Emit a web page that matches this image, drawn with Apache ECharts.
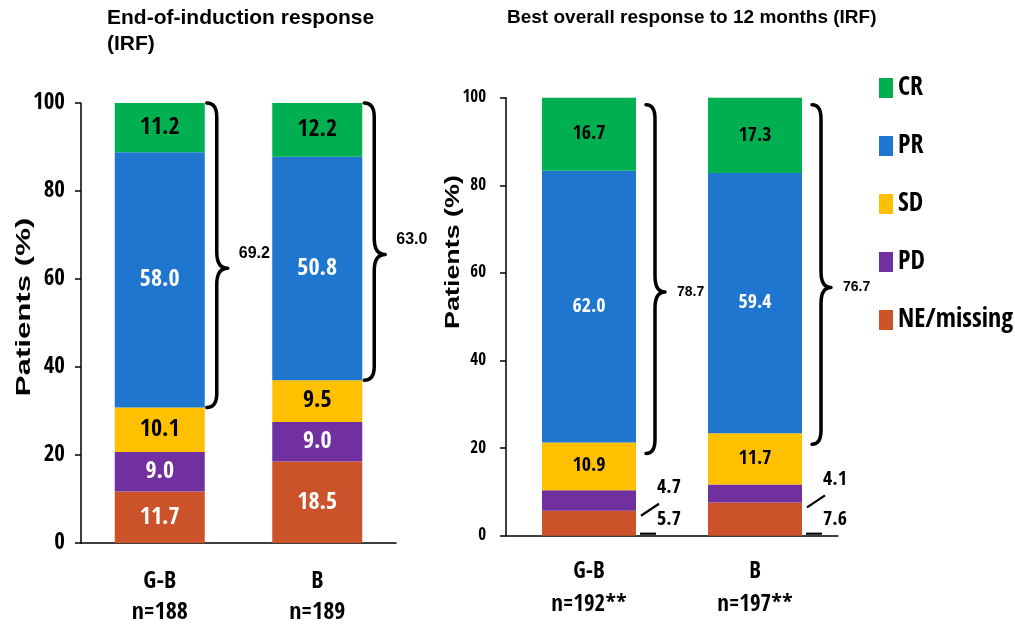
<!DOCTYPE html>
<html>
<head>
<meta charset="utf-8">
<script src="https://cdn.jsdelivr.net/npm/echarts@6/dist/echarts.min.js"></script>
<style>
  html, body { margin: 0; padding: 0; background: #fff; }
  #chart { width: 1015px; height: 628px; }
</style>
</head>
<body>
<div id="chart"></div>
<script>
// Treatment arms and patient counts
const categories = ['G-B', 'B'];
const eoiCounts = ['n=188', 'n=189'];
const borCounts = ['n=192**', 'n=197**'];

// Response categories (legend order, top of stack first)
const responseNames = ['CR', 'PR', 'SD', 'PD', 'NE/missing'];

// End-of-induction response (IRF), % of patients
const eoiCR = [11.2, 12.2];
const eoiPR = [58.0, 50.8];
const eoiSD = [10.1, 9.5];
const eoiPD = [9.0, 9.0];
const eoiNE = [11.7, 18.5];

// Best overall response to 12 months (IRF), % of patients
const borCR = [16.7, 17.3];
const borPR = [62.0, 59.4];
const borSD = [10.9, 11.7];
const borPD = [4.7, 4.1];
const borNE = [5.7, 7.6];

// Y axis scale
const yMin = 0, yMax = 100, yStep = 20;

const COLORS = {
  'CR': '#00B050',
  'PR': '#1F76CE',
  'SD': '#FFC000',
  'PD': '#7030A0',
  'NE/missing': '#CB5229'
};
const NARROW = '"Open Sans Condensed", "Open Sans", sans-serif';
const SANS = '"Liberation Sans", Arial, sans-serif';

const panels = [
  { CR: eoiCR, PR: eoiPR, SD: eoiSD, PD: eoiPD, NE: eoiNE, counts: eoiCounts },
  { CR: borCR, PR: borPR, SD: borSD, PD: borPD, NE: borNE, counts: borCounts }
];

// Per-panel drawing settings
const barWidths = [90, 94];
const labelSizes = [24, 20];
const braceCfg = [
  { gap: 2, arm: 10, tip: 21, topPad: 0, botPad: 0, labelDx: 11, labelDy: -15, font: 'bold 16px ' + SANS },
  { gap: 10, arm: 9, tip: 19, topPad: 7, botPad: 11, labelDx: 12, labelDy: 0, font: 'bold 14px ' + SANS }
];

function barSeries(gi, name, values, labelColor, showLabel) {
  return {
    type: 'bar',
    name: name,
    stack: 'panel' + gi,
    xAxisIndex: gi,
    yAxisIndex: gi,
    barWidth: barWidths[gi],
    data: values,
    itemStyle: { color: COLORS[name] },
    label: {
      show: showLabel,
      position: 'inside',
      color: labelColor,
      fontFamily: NARROW,
      fontWeight: 'bold',
      fontSize: labelSizes[gi],
      formatter: p => p.value.toFixed(1)
    }
  };
}

// Curly brace spanning CR + PR, with the combined percentage beside it
function braceSeries(gi) {
  const p = panels[gi];
  const cfg = braceCfg[gi];
  const data = categories.map((c, i) => {
    const low = p.NE[i] + p.PD[i] + p.SD[i];
    return [i, low, Math.min(yMax, low + p.PR[i] + p.CR[i])];
  });
  const texts = categories.map((c, i) => (p.CR[i] + p.PR[i]).toFixed(1));
  return {
    type: 'custom',
    xAxisIndex: gi,
    yAxisIndex: gi,
    silent: true,
    z: 5,
    encode: { x: 0, y: [1, 2] },
    data: data,
    renderItem: (params, api) => {
      const cat = api.value(0);
      const pLow = api.coord([cat, api.value(1)]);
      const pTop = api.coord([cat, api.value(2)]);
      const x0 = pLow[0] + barWidths[gi] / 2 + cfg.gap;
      const xa = x0 + cfg.arm;
      const xt = x0 + cfg.tip;
      const yT = pTop[1] + cfg.topPad;
      const yB = pLow[1] + cfg.botPad;
      const yM = (yT + yB) / 2 + 13;
      const r = 14, rt = 16;
      const d = `M${x0},${yT} Q${xa},${yT} ${xa},${yT + r} L${xa},${yM - rt} Q${xa},${yM} ${xt},${yM} ` +
                `Q${xa},${yM} ${xa},${yM + rt} L${xa},${yB - r} Q${xa},${yB} ${x0},${yB}`;
      return {
        type: 'group',
        children: [
          {
            type: 'path',
            shape: { pathData: d },
            style: { fill: 'none', stroke: '#000', lineWidth: 3.5, lineCap: 'round', lineJoin: 'round' }
          },
          {
            type: 'text',
            style: {
              text: texts[params.dataIndex],
              x: xt + cfg.labelDx,
              y: yM + cfg.labelDy,
              font: cfg.font,
              fill: '#000',
              textAlign: 'left',
              textVerticalAlign: 'middle'
            }
          }
        ]
      };
    }
  };
}

// Leader-line labels for the thin PD and NE/missing segments
function leaderSeries(gi) {
  const p = panels[gi];
  const data = categories.map((c, i) => [i, p.NE[i], p.PD[i]]);
  const font = 'bold 20px ' + NARROW;
  return {
    type: 'custom',
    xAxisIndex: gi,
    yAxisIndex: gi,
    silent: true,
    z: 5,
    encode: { x: 0, y: 1 },
    data: data,
    renderItem: (params, api) => {
      const cat = api.value(0);
      const ne = api.value(1);
      const pd = api.value(2);
      const base = api.coord([cat, 0]);
      const neTop = api.coord([cat, ne]);
      const xr = base[0] + barWidths[gi] / 2;
      const lineStyle = { stroke: '#000', lineWidth: 2.2 };
      return {
        type: 'group',
        children: [
          { type: 'line', shape: { x1: xr + 4, y1: base[1] - 2, x2: xr + 20, y2: base[1] - 2 }, style: lineStyle },
          { type: 'line', shape: { x1: xr + 5, y1: neTop[1] + 5, x2: xr + 23, y2: neTop[1] - 7 }, style: lineStyle },
          { type: 'text', style: { text: ne.toFixed(1), x: xr + 21, y: base[1] - 16, font: font, fill: '#000', textAlign: 'left', textVerticalAlign: 'middle' } },
          { type: 'text', style: { text: pd.toFixed(1), x: xr + 21, y: neTop[1] - 23, font: font, fill: '#000', textAlign: 'left', textVerticalAlign: 'middle' } }
        ]
      };
    }
  };
}

const series = [];
[0, 1].forEach(gi => {
  const p = panels[gi];
  const inBarLower = gi === 0;
  series.push(barSeries(gi, 'NE/missing', p.NE, '#fff', inBarLower));
  series.push(barSeries(gi, 'PD', p.PD, '#fff', inBarLower));
  series.push(barSeries(gi, 'SD', p.SD, '#000', true));
  series.push(barSeries(gi, 'PR', p.PR, '#fff', true));
  series.push(barSeries(gi, 'CR', p.CR, '#000', true));
  series.push(braceSeries(gi));
});
series.push(leaderSeries(1));

function xAxisFor(gi, fontSize, margin, lineHeight) {
  return {
    type: 'category',
    gridIndex: gi,
    data: categories,
    axisLine: { show: true, lineStyle: { color: '#000', width: 1.5 } },
    axisTick: { show: false },
    axisLabel: {
      margin: margin,
      color: '#000',
      fontFamily: NARROW,
      fontWeight: 'bold',
      fontSize: fontSize,
      lineHeight: lineHeight,
      formatter: (v, i) => v + '\n' + panels[gi].counts[i]
    }
  };
}

function yAxisFor(gi, fontSize, margin) {
  return {
    type: 'value',
    gridIndex: gi,
    min: yMin,
    max: yMax,
    interval: yStep,
    splitLine: { show: false },
    axisLine: { show: true, lineStyle: { color: '#000', width: 1.5 } },
    axisTick: { show: true, inside: false, length: 6, lineStyle: { color: '#000', width: 1.5 } },
    axisLabel: {
      margin: margin,
      color: '#000',
      fontFamily: NARROW,
      fontWeight: 'bold',
      fontSize: fontSize
    }
  };
}

const chart = echarts.init(document.getElementById('chart'), null, { renderer: 'canvas' });
chart.setOption({
  animation: false,
  backgroundColor: '#fff',
  title: [
    {
      left: 102, top: 0,
      text: 'End-of-induction response\n(IRF)',
      textStyle: { fontFamily: SANS, fontWeight: 'bold', fontSize: 21, lineHeight: 26, color: '#000' }
    },
    {
      left: 502, top: 0,
      text: 'Best overall response to 12 months (IRF)',
      textStyle: { fontFamily: SANS, fontWeight: 'bold', fontSize: 19, lineHeight: 26, color: '#000' }
    }
  ],
  legend: {
    data: responseNames,
    orient: 'vertical',
    left: 874,
    top: 70,
    icon: 'rect',
    itemWidth: 14,
    itemHeight: 20,
    itemGap: 32,
    selectedMode: false,
    textStyle: { fontFamily: NARROW, fontWeight: 'bold', fontSize: 26, color: '#000' }
  },
  grid: [
    { left: 81, top: 103, width: 315, height: 442 },
    { left: 506, top: 97.7, width: 332, height: 438 }
  ],
  xAxis: [xAxisFor(0, 24, 23, 31), xAxisFor(1, 23, 20, 33)],
  yAxis: [yAxisFor(0, 23, 16), yAxisFor(1, 17, 20)],
  graphic: [
    {
      type: 'text', x: 24, y: 307, rotation: Math.PI / 2, scaleX: 1.56,
      style: { text: 'Patients (%)', font: 'bold 20px ' + SANS, fill: '#000', textAlign: 'center', textVerticalAlign: 'middle' }
    },
    {
      type: 'text', x: 453, y: 252, rotation: Math.PI / 2, scaleX: 1.28,
      style: { text: 'Patients (%)', font: 'bold 21px ' + SANS, fill: '#000', textAlign: 'center', textVerticalAlign: 'middle' }
    }
  ],
  series: series
});
</script>
</body>
</html>
